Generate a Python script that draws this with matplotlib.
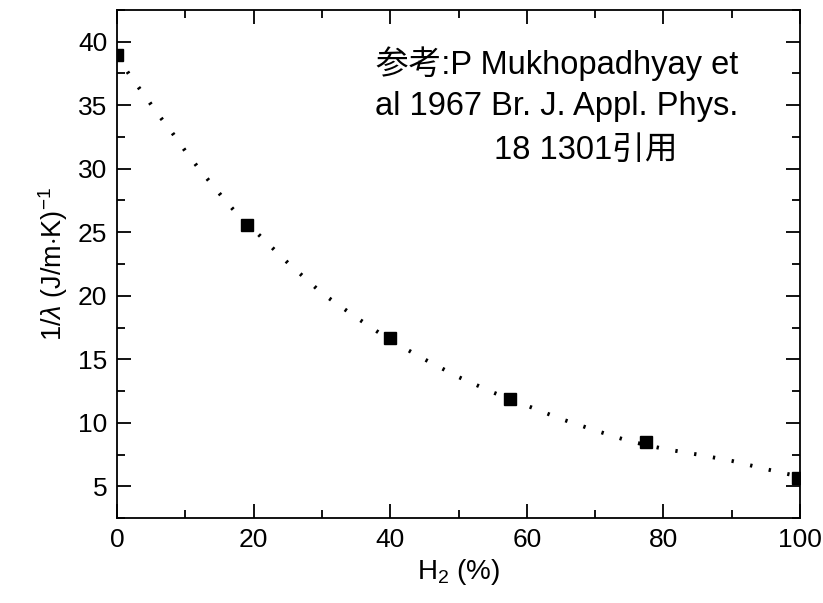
import matplotlib
matplotlib.use("Agg")
import matplotlib.pyplot as plt
from matplotlib.ticker import MultipleLocator

# measured points
h2_pct = [0, 19, 40, 57.5, 77.5, 99.7]
inv_lambda = [38.95, 25.55, 16.7, 11.9, 8.5, 5.65]

# fitted curve
fit_x = [0, 2, 4, 6, 8, 10, 12, 14, 16, 18, 20, 25, 30, 35, 40, 45, 50,
         55, 60, 65, 70, 75, 80, 85, 90, 95, 100]
fit_y = [38.9, 37.25, 35.8, 34.3, 32.9, 31.4, 30.0, 28.7, 27.4, 26.2, 25.2,
         22.6, 20.2, 18.3, 16.5, 15.0, 13.6, 12.4, 11.35, 10.3, 9.4, 8.55,
         7.95, 7.5, 7.0, 6.35, 5.75]

note_lines = ["参考:P Mukhopadhyay et", "al 1967 Br. J. Appl. Phys.", "18 1301引用"]

plt.rcParams["font.family"] = ["Liberation Sans", "DejaVu Sans"]
plt.rcParams["mathtext.fontset"] = "custom"
plt.rcParams["mathtext.rm"] = "Liberation Sans"
plt.rcParams["mathtext.it"] = "Liberation Sans:italic"

fig = plt.figure(figsize=(8.23, 6.03), dpi=100, facecolor="white")
ax = fig.add_axes([117 / 823, 1 - 518 / 603, 683 / 823, 508 / 603])

ax.plot(fit_x, fit_y, color="black", linewidth=2.8, linestyle=(0, (0.6, 4.3)),
        dash_capstyle="butt")
ax.plot(h2_pct, inv_lambda, linestyle="none", marker="s", markersize=8.5,
        color="black")

ax.set_xlim(0, 100)
ax.set_ylim(2.5, 42.5)
ax.xaxis.set_major_locator(MultipleLocator(20))
ax.xaxis.set_minor_locator(MultipleLocator(10))
ax.yaxis.set_major_locator(MultipleLocator(5))
ax.yaxis.set_minor_locator(MultipleLocator(2.5))
ax.tick_params(which="both", direction="in", top=True, right=True,
               labelsize=19, width=1.3, colors="black")
ax.tick_params(which="major", length=10, pad=7)
ax.tick_params(which="minor", length=6)
for spine in ax.spines.values():
    spine.set_linewidth(1.3)

ax.set_xlabel("H$_2$ (%)", fontsize=20, labelpad=4)
ax.set_ylabel(r"1/$\lambda$ (J/m$\cdot$K)$^{-1}$", fontsize=19.5, labelpad=6)

note_y = [64, 107, 150]
note_x = [557, 557, 586]
for txt, px, py in zip(note_lines, note_x, note_y):
    fig.text(px / 823, 1 - py / 603, txt, ha="center", va="center",
             fontsize=23.5, family=["Liberation Sans", "Noto Sans CJK JP"])

fig.savefig("out.png", dpi=100, facecolor="white")
